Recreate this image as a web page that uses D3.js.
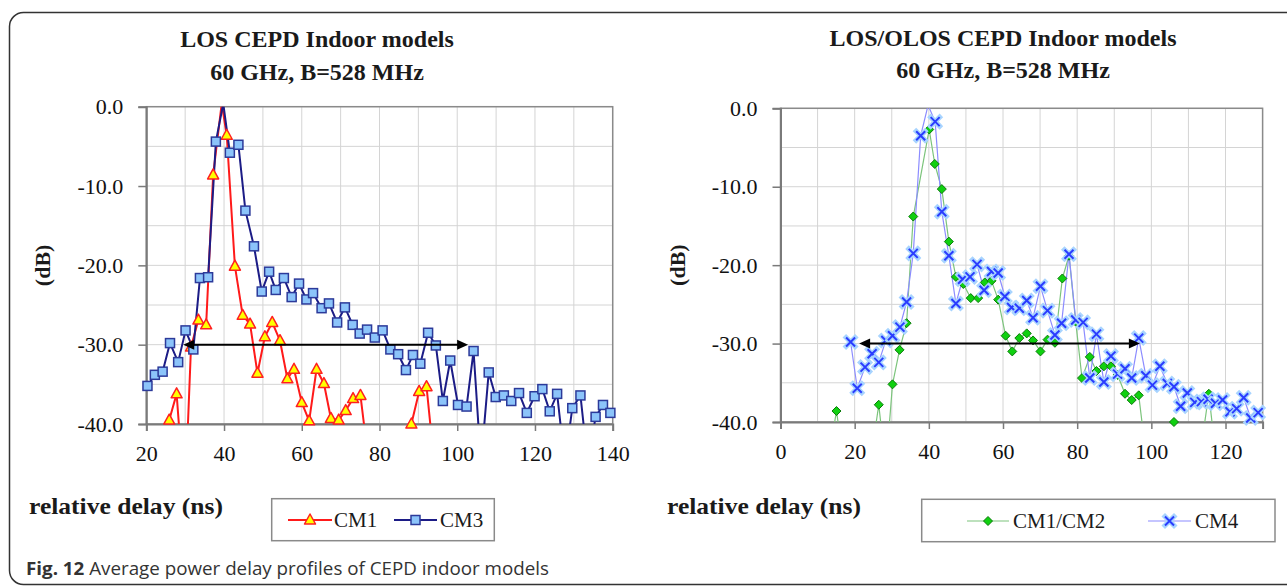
<!DOCTYPE html>
<html>
<head>
<meta charset="utf-8">
<script src="https://cdn.jsdelivr.net/npm/d3@7/dist/d3.min.js"></script>
<style>
  html, body { margin: 0; padding: 0; background: #fff; }
  svg { display: block; }
</style>
</head>
<body>
<svg id="chart" width="1287" height="586"></svg>
<script>
// ---------------- DATA ----------------
// Left chart: LOS CEPD indoor models (delay ns, power dB)
const cm1Delay = [24.0, 25.9, 27.8, 29.9, 31.5, 33.4, 35.4, 37.2, 39.4, 40.7, 42.8, 44.8, 46.7, 48.6, 50.5, 52.4, 54.4, 56.3, 58.0, 60.0, 61.9, 63.8, 65.7, 67.5, 69.5, 71.3, 73.2, 75.1, 77.0, 78.9, 80.8, 82.7, 84.5, 86.4, 88.2, 90.2, 92.1, 94.1];
const cm1Power = [-42, -39.5, -36.2, -50, -30.3, -26.9, -27.5, -8.6, 0.4, -3.6, -20.1, -26.3, -27.4, -33.6, -29.0, -27.2, -29.5, -34.3, -33.1, -37.3, -39.6, -33.1, -34.9, -39.3, -39.5, -38.3, -36.8, -36.4, -44, -46, -43, -47, -45, -43, -40.0, -35.9, -35.3, -45];

const cm3Delay = [20.3, 22.2, 24.2, 26.1, 28.2, 30.1, 32.1, 33.8, 35.9, 37.9, 39.8, 41.5, 43.7, 45.5, 47.7, 49.7, 51.6, 53.3, 55.4, 57.4, 59.3, 61.2, 62.9, 65.1, 67.0, 69.1, 71.1, 73.1, 74.9, 76.8, 78.8, 80.8, 82.8, 84.8, 86.8, 88.6, 90.5, 92.5, 94.5, 96.3, 98.2, 100.2, 102.4, 104.2, 106.1, 108.1, 109.9, 112.0, 113.9, 115.9, 117.9, 119.9, 121.9, 123.8, 125.7, 127.7, 129.6, 131.7, 133.6, 135.6, 137.5, 139.4];
const cm3Power = [-35.2, -33.8, -33.4, -29.8, -32.2, -28.2, -30.6, -21.6, -21.5, -4.4, 0.4, -5.8, -4.8, -13.1, -17.6, -23.3, -20.8, -23.1, -21.6, -24.0, -22.3, -24.3, -23.5, -25.4, -24.8, -27.2, -25.3, -27.5, -28.6, -28.1, -29.1, -28.2, -30.6, -31.2, -33.2, -31.3, -32.4, -28.5, -30.1, -37.1, -32.0, -37.6, -37.8, -30.8, -45, -33.5, -36.6, -36.4, -37.1, -36.1, -38.6, -36.5, -35.6, -38.4, -36.2, -45, -38.0, -36.4, -45, -39.1, -37.6, -38.6];

// Right chart: LOS/OLOS CEPD indoor models
const cm12Delay = [13.2, 15.1, 17.0, 18.9, 20.8, 22.7, 24.6, 26.5, 28.4, 30.2, 32.1, 34.0, 35.8, 40.1, 41.6, 43.5, 45.4, 47.3, 49.3, 51.3, 53.3, 55.1, 56.9, 58.7, 60.7, 62.5, 64.4, 66.4, 68.1, 70.1, 72.0, 74.0, 76.0, 77.8, 79.6, 81.3, 83.4, 85.2, 87.2, 89.1, 90.9, 92.9, 94.7, 96.6, 98.5, 100.3, 102.3, 104.3, 106.1, 107.9, 109.7, 111.7, 113.5, 115.5, 117.3];
const cm12Power = [-44, -38.6, -45, -48, -50, -47, -44, -37.8, -46, -35.2, -30.8, -27.4, -13.8, -2.7, -7.1, -10.3, -17.0, -21.5, -22.4, -24.2, -24.2, -22.2, -22.0, -24.4, -29.0, -31.0, -29.3, -28.7, -29.6, -31.0, -29.5, -29.9, -21.7, -18.8, -27.2, -34.4, -31.7, -33.5, -32.9, -32.9, -34.0, -36.4, -37.2, -36.6, -44, -48, -46, -43, -40.0, -44, -47, -46, -43, -36.4, -44];

const cm4Delay = [18.9, 20.7, 22.8, 24.7, 26.5, 28.4, 30.2, 32.2, 34.0, 35.8, 37.8, 39.8, 41.7, 43.5, 45.4, 47.3, 49.1, 51.1, 53.0, 54.9, 56.9, 58.7, 60.5, 62.3, 64.4, 66.4, 68.1, 70.1, 72.0, 74.0, 75.8, 77.8, 79.6, 81.6, 83.4, 85.2, 87.2, 89.1, 90.9, 92.9, 94.7, 96.6, 98.5, 100.3, 102.3, 104.3, 106.1, 107.9, 109.7, 111.7, 113.5, 115.3, 117.3, 119.2, 121.2, 123.0, 124.9, 126.8, 128.8];
const cm4Power = [-29.8, -35.7, -33.0, -31.3, -32.4, -29.6, -29.0, -27.9, -24.7, -18.5, -3.5, 0.4, -1.7, -13.2, -18.8, -24.9, -21.8, -21.5, -19.9, -23.2, -20.8, -21.0, -24.0, -25.4, -25.5, -24.5, -26.7, -22.7, -25.8, -28.9, -27.4, -18.6, -27.0, -27.3, -34.4, -28.8, -34.9, -31.6, -33.9, -33.2, -34.4, -29.3, -34.1, -35.3, -32.9, -35.1, -35.5, -38.0, -36.3, -37.5, -37.4, -37.1, -37.6, -37.2, -38.7, -38.3, -36.9, -39.5, -38.8];

// delay-spread arrows (ns) drawn at -30 dB
const leftArrow = [29.5, 102.8];
const rightArrow = [21.2, 96.9];
const arrowLevel = -30;

// axes / labels
const yTicks = [0, -10, -20, -30, -40];
const leftXTicks = [20, 40, 60, 80, 100, 120, 140];
const rightXTicks = [0, 20, 40, 60, 80, 100, 120];
const leftTitle = ["LOS CEPD Indoor models", "60 GHz, B=528 MHz"];
const rightTitle = ["LOS/OLOS CEPD Indoor models", "60 GHz, B=528 MHz"];
const xLabel = "relative delay (ns)";
const yLabel = "(dB)";
const caption = ["Fig. 12", " Average power delay profiles of CEPD indoor models"];

// ---------------- DRAWING ----------------
const svg = d3.select("#chart");
const SERIF = "'Liberation Serif', 'DejaVu Serif', serif";
const SANS = "'Open Sans', 'Noto Sans', sans-serif";

// outer figure frame
svg.append("rect")
  .attr("x", 9.5).attr("y", 12.5).attr("width", 1300).attr("height", 572)
  .attr("rx", 14).attr("ry", 14)
  .attr("fill", "none").attr("stroke", "#333").attr("stroke-width", 1.5);

function zip(xs, ys) { return xs.map((x, i) => ({ x: x, y: ys[i] })); }

function panel(cfg) {
  const x = d3.scaleLinear().domain(cfg.xDomain).range([cfg.left, cfg.right]);
  const y = d3.scaleLinear().domain([-40, 0]).range([cfg.bottom, cfg.top]);
  const g = svg.append("g");
  const clipId = "clip" + cfg.id;
  svg.append("clipPath").attr("id", clipId).append("rect")
    .attr("x", cfg.left).attr("y", cfg.top)
    .attr("width", cfg.right - cfg.left).attr("height", cfg.bottom - cfg.top);

  // grid
  const xGrid = d3.range(cfg.xDomain[0], cfg.xDomain[1] + 0.01, 10);
  const yGrid = d3.range(-40, 0.01, 5);
  g.append("g").selectAll("line").data(xGrid).join("line")
    .attr("x1", d => x(d)).attr("x2", d => x(d))
    .attr("y1", cfg.top).attr("y2", cfg.bottom)
    .attr("stroke", "#d4d4d4").attr("stroke-width", 1);
  g.append("g").selectAll("line").data(yGrid).join("line")
    .attr("y1", d => y(d)).attr("y2", d => y(d))
    .attr("x1", cfg.left).attr("x2", cfg.right)
    .attr("stroke", "#d4d4d4").attr("stroke-width", 1);
  // plot border
  g.append("rect").attr("x", cfg.left).attr("y", cfg.top)
    .attr("width", cfg.right - cfg.left).attr("height", cfg.bottom - cfg.top)
    .attr("fill", "none").attr("stroke", "#8a8a8a").attr("stroke-width", 1.5);

  // axes
  const yAxis = d3.axisLeft(y).tickValues(yTicks).tickSize(8).tickPadding(15)
    .tickFormat(d3.format(".1f"));
  const ya = g.append("g").attr("transform", `translate(${cfg.left},0)`).call(yAxis);
  const xAxis = d3.axisBottom(x).tickValues(cfg.xTicks).tickSize(7).tickPadding(14)
    .tickFormat(d3.format("d"));
  const xa = g.append("g").attr("transform", `translate(0,${cfg.bottom})`).call(xAxis);
  [ya, xa].forEach(a => {
    a.select(".domain").attr("stroke", "#7a7a7a").attr("stroke-width", 2);
    a.selectAll(".tick line").attr("stroke", "#7a7a7a").attr("stroke-width", 1.5);
    a.selectAll(".tick text").attr("font-family", SERIF).attr("font-size", 22)
      .attr("fill", "#111");
  });
  ya.selectAll(".tick text").text(d => (d === 0 ? "0.0" : "-" + Math.abs(d).toFixed(1)));

  // titles
  cfg.title.forEach((t, i) => {
    svg.append("text").attr("x", cfg.titleX).attr("y", cfg.titleY[i])
      .attr("text-anchor", "middle").attr("font-family", SERIF)
      .attr("font-weight", "bold").attr("font-size", 24).attr("fill", "#1a1a1a").text(t);
  });
  // y label
  svg.append("text")
    .attr("transform", `translate(${cfg.yLabelX},${(cfg.top + cfg.bottom) / 2}) rotate(-90)`)
    .attr("text-anchor", "middle").attr("dominant-baseline", "central")
    .attr("font-family", SERIF).attr("font-weight", "bold").attr("font-size", 22)
    .attr("fill", "#1a1a1a").text(yLabel);
  // x label
  svg.append("text").attr("x", cfg.xLabelX).attr("y", 514)
    .attr("font-family", SERIF).attr("font-weight", "bold").attr("font-size", 23)
    .attr("textLength", 194).attr("lengthAdjust", "spacingAndGlyphs")
    .attr("fill", "#1a1a1a").text(xLabel);

  // series
  const line = d3.line().x(d => x(d.x)).y(d => y(d.y));
  const lines = g.append("g").attr("clip-path", `url(#${clipId})`);
  cfg.series.forEach(s => {
    lines.append("path").datum(s.data).attr("d", line)
      .attr("fill", "none").attr("stroke", s.color).attr("stroke-width", s.width)
      .attr("stroke-linejoin", "round");
  });
  cfg.series.forEach(s => {
    const pts = s.data.filter(d => d.y >= -40 && d.y <= 0);
    const mg = g.append("g");
    pts.forEach(d => s.marker(mg, x(d.x), y(d.y)));
  });

  // arrow
  const ax0 = x(cfg.arrow[0]), ax1 = x(cfg.arrow[1]), ay = y(arrowLevel);
  const ag = g.append("g");
  ag.append("line").attr("x1", ax0 + 6).attr("x2", ax1 - 6).attr("y1", ay).attr("y2", ay)
    .attr("stroke", "#000").attr("stroke-width", 2);
  ag.append("path").attr("d", `M${ax0},${ay} L${ax0 + 11},${ay - 5} L${ax0 + 11},${ay + 5} Z`)
    .attr("fill", "#000");
  ag.append("path").attr("d", `M${ax1},${ay} L${ax1 - 11},${ay - 5} L${ax1 - 11},${ay + 5} Z`)
    .attr("fill", "#000");

  return { x, y };
}

// marker painters
function triangle(g, cx, cy) {
  g.append("path").attr("d", `M${cx},${cy - 6} L${cx + 5.5},${cy + 4} L${cx - 5.5},${cy + 4} Z`)
    .attr("fill", "#ffff00").attr("stroke", "#ff2020").attr("stroke-width", 1.5)
    .attr("stroke-linejoin", "round");
}
function square(g, cx, cy) {
  g.append("rect").attr("x", cx - 4.5).attr("y", cy - 4.5).attr("width", 9).attr("height", 9)
    .attr("fill", "#8cc4fa").attr("stroke", "#2c3a9a").attr("stroke-width", 1.5);
}
function diamond(g, cx, cy) {
  g.append("path").attr("d", `M${cx},${cy - 4.5} L${cx + 4.5},${cy} L${cx},${cy + 4.5} L${cx - 4.5},${cy} Z`)
    .attr("fill", "#10d010").attr("stroke", "#0a7a0a").attr("stroke-width", 1);
}
function cross(g, cx, cy) {
  const r = 4.5;
  const p = `M${cx - r},${cy - r} L${cx + r},${cy + r} M${cx + r},${cy - r} L${cx - r},${cy + r}`;
  g.append("path").attr("d", p).attr("stroke", "#a8d4ff").attr("stroke-width", 5)
    .attr("stroke-linecap", "square").attr("fill", "none");
  g.append("path").attr("d", p).attr("stroke", "#2a3cff").attr("stroke-width", 2)
    .attr("fill", "none");
}

panel({
  id: "L", xDomain: [20, 140], left: 146.3, right: 612.7, top: 106.7, bottom: 424,
  xTicks: leftXTicks, title: leftTitle, titleX: 317, titleY: [47, 80],
  yLabelX: 42, xLabelX: 29, arrow: leftArrow,
  series: [
    { data: zip(cm1Delay, cm1Power), color: "#ff1a1a", width: 2, marker: triangle },
    { data: zip(cm3Delay, cm3Power), color: "#1c1c86", width: 2, marker: square }
  ]
});
panel({
  id: "R", xDomain: [0, 130], left: 780.5, right: 1262.6, top: 108.3, bottom: 422,
  xTicks: rightXTicks, title: rightTitle, titleX: 1003, titleY: [46, 78],
  yLabelX: 677, xLabelX: 667, arrow: rightArrow,
  series: [
    { data: zip(cm12Delay, cm12Power), color: "#7cc47c", width: 1.2, marker: diamond },
    { data: zip(cm4Delay, cm4Power), color: "#8c8cff", width: 1.2, marker: cross }
  ]
});

// legends
function legend(box, items) {
  const g = svg.append("g");
  g.append("rect").attr("x", box.x).attr("y", box.y).attr("width", box.w).attr("height", box.h)
    .attr("fill", "#fff").attr("stroke", "#8a8a8a").attr("stroke-width", 1.5);
  items.forEach(it => {
    g.append("line").attr("x1", it.x0).attr("x2", it.x1).attr("y1", box.cy).attr("y2", box.cy)
      .attr("stroke", it.color).attr("stroke-width", it.width);
    it.marker(g, (it.x0 + it.x1) / 2, box.cy);
    g.append("text").attr("x", it.tx).attr("y", box.cy + 7)
      .attr("font-family", SERIF).attr("font-size", 21).attr("fill", "#1a1a1a").text(it.label);
  });
}
legend({ x: 271.7, y: 498.7, w: 222.6, h: 42, cy: 520 }, [
  { label: "CM1", x0: 288, x1: 332, tx: 334, color: "#ff1a1a", width: 2, marker: triangle },
  { label: "CM3", x0: 394, x1: 437, tx: 440, color: "#1c1c86", width: 2, marker: square }
]);
legend({ x: 921.7, y: 499.3, w: 353.3, h: 42.4, cy: 521 }, [
  { label: "CM1/CM2", x0: 967, x1: 1009, tx: 1013, color: "#7cc47c", width: 1.2, marker: diamond },
  { label: "CM4", x0: 1148, x1: 1191, tx: 1195, color: "#8c8cff", width: 1.2, marker: cross }
]);

// caption
const cap = svg.append("text").attr("x", 26).attr("y", 575)
  .attr("font-family", SANS).attr("font-size", 18.5).attr("fill", "#333")
  .attr("textLength", 523).attr("lengthAdjust", "spacingAndGlyphs");
cap.append("tspan").attr("font-weight", "bold").text(caption[0]);
cap.append("tspan").text(caption[1]);
</script>
</body>
</html>
